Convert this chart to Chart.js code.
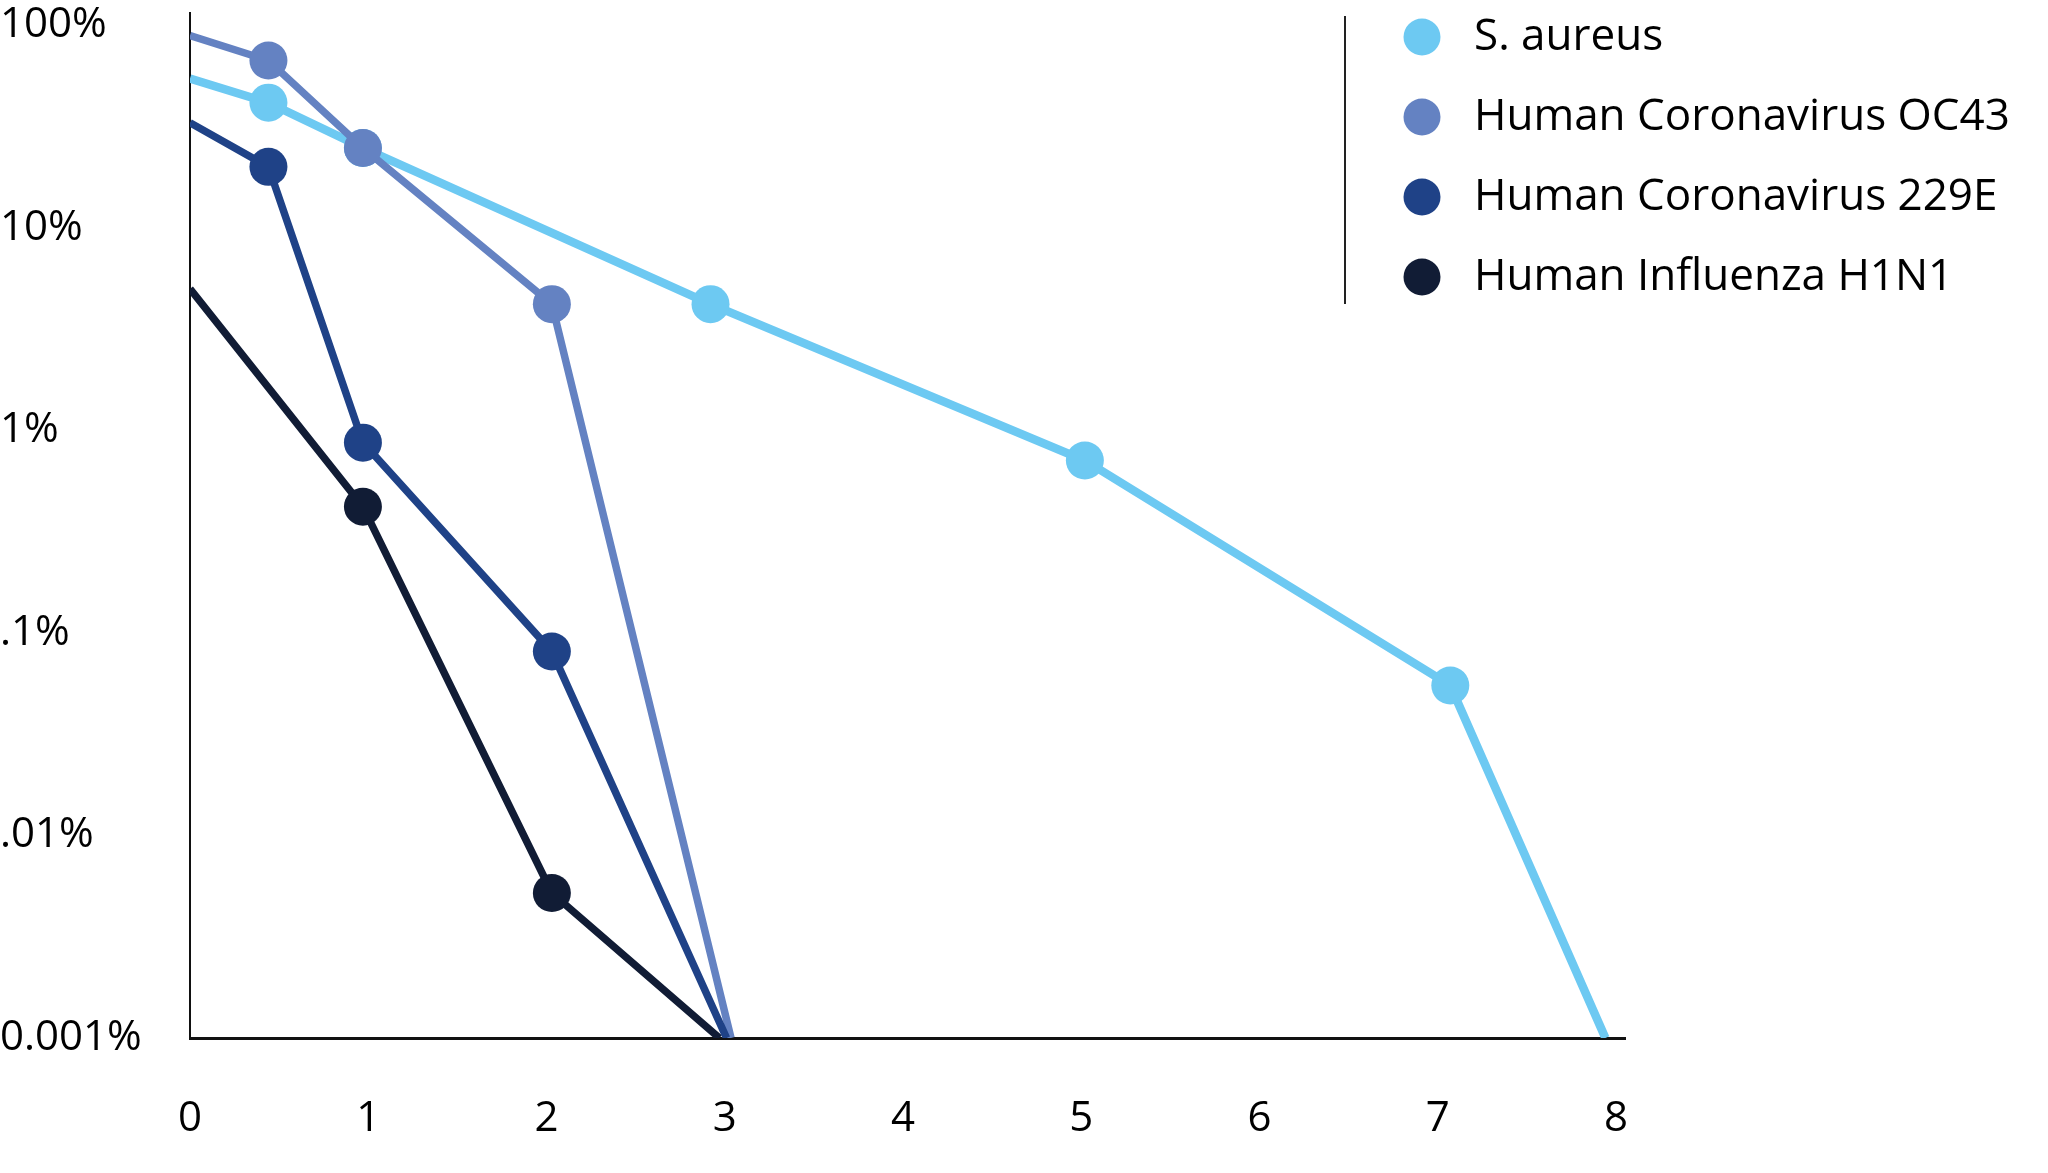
<!DOCTYPE html>
<html>
<head>
<meta charset="utf-8">
<title>Reduction over time</title>
<script src="https://cdn.jsdelivr.net/npm/chart.js@4/dist/chart.umd.min.js"></script>
<style>
  html, body { margin: 0; padding: 0; background: #ffffff; }
  #wrap { width: 2048px; height: 1173px; position: relative; }
</style>
</head>
<body>
<div id="wrap"><canvas id="killchart"></canvas></div>
<script>
// values (y in percent, log scale)

var seriesNames = ["S. aureus", "Human Coronavirus OC43", "Human Coronavirus 229E", "Human Influenza H1N1"];
var seriesColors = ["#6dc9f2", "#6482c2", "#1f4287", "#111c35"];

var saureusX = [0, 0.44, 0.97, 2.92, 5.02, 7.07, 7.94];
var saureusY = [54.6, 41.5, 24.8, 4.2, 0.71, 0.055, 0.001];

var oc43X = [0, 0.44, 0.97, 2.03, 3.035];
var oc43Y = [89, 67, 24.8, 4.2, 0.001];

var e229X = [0, 0.44, 0.97, 2.03, 3.01];
var e229Y = [33, 20, 0.87, 0.081, 0.001];

var h1n1X = [0, 0.97, 2.03, 2.97];
var h1n1Y = [5.0, 0.42, 0.0052, 0.001];

var xTickValues = [0, 1, 2, 3, 4, 5, 6, 7, 8];
var yTickValues = [0.001, 0.01, 0.1, 1, 10, 100];
var yTickLabels = ["0.001%", ".01%", ".1%", "1%", "10%", "100%"];

var FONT = "'Open Sans', Lato, sans-serif";

function points(xs, ys) {
    // pair up x and y lists for a scatter-style line
    var out = [];
    for (var i = 0; i < xs.length; i++) {
        out.push({x: xs[i], y: ys[i]});
    }
    return out;
}

function radii(n) {
    // the lines start and end without a marker
    var r = [];
    for (var i = 0; i < n; i++) {
        r.push(i === 0 || i === n - 1 ? 0 : 19);
    }
    return r;
}

function make_dataset(idx, xs, ys, width, order) {
    return {
        label: seriesNames[idx],
        data: points(xs, ys),
        borderColor: seriesColors[idx],
        backgroundColor: seriesColors[idx],
        borderWidth: width,
        pointRadius: radii(xs.length),
        pointHoverRadius: radii(xs.length),
        pointBorderWidth: 0,
        tension: 0,
        fill: false,
        order: order
    };
}

// legend on the top right, with a thin rule on its left
var sideLegend = {
    id: "sideLegend",
    afterDraw: function(chart) {
        var ctx = chart.ctx;
        ctx.save();
        ctx.strokeStyle = "#222222";
        ctx.lineWidth = 2;
        ctx.beginPath();
        ctx.moveTo(1345, 16);
        ctx.lineTo(1345, 304);
        ctx.stroke();
        chart.data.datasets.forEach(function(ds, i) {
            var y = 37 + i * 80;
            ctx.fillStyle = ds.borderColor;
            ctx.beginPath();
            ctx.arc(1422, y, 18.5, 0, Math.PI * 2);
            ctx.fill();
            ctx.fillStyle = "#000000";
            ctx.font = "44px " + FONT;
            ctx.textAlign = "left";
            ctx.textBaseline = "middle";
            ctx.fillText(ds.label, 1474, y);
        });
        ctx.restore();
    }
};

function main() {
    new Chart(document.getElementById("killchart"), {
        type: "line",
        data: {
            datasets: [
                make_dataset(0, saureusX, saureusY, 8.5, 4),
                make_dataset(1, oc43X, oc43Y, 7.5, 3),
                make_dataset(2, e229X, e229Y, 7.5, 1),
                make_dataset(3, h1n1X, h1n1Y, 7.5, 2)
            ]
        },
        options: {
            responsive: true,
            maintainAspectRatio: false,
            animation: false,
            events: [],
            layout: {
                padding: {top: 13, right: 423, bottom: 0, left: 0}
            },
            plugins: {
                legend: {display: false},
                tooltip: {enabled: false}
            },
            scales: {
                x: {
                    type: "linear",
                    min: 0,
                    max: 8.05,
                    grid: {display: false},
                    border: {display: true, color: "#111111", width: 3},
                    afterBuildTicks: function(scale) {
                        scale.ticks = xTickValues.map(function(v) { return {value: v}; });
                    },
                    afterFit: function(scale) {
                        scale.height = 135;
                        scale.paddingLeft = 0;
                        scale.paddingRight = 0;
                    },
                    ticks: {
                        color: "#000000",
                        font: {family: FONT, size: 42},
                        padding: 48,
                        maxRotation: 0,
                        autoSkip: false,
                        callback: function(value) { return String(value); }
                    }
                },
                y: {
                    type: "logarithmic",
                    min: 0.001,
                    max: 115,
                    grid: {display: false},
                    border: {display: true, color: "#111111", width: 2},
                    afterBuildTicks: function(scale) {
                        scale.ticks = yTickValues.map(function(v) { return {value: v}; });
                    },
                    afterFit: function(scale) {
                        scale.width = 190;
                        scale.paddingTop = 0;
                        scale.paddingBottom = 0;
                    },
                    ticks: {
                        color: "#000000",
                        font: {family: FONT, size: 42},
                        padding: 0,
                        crossAlign: "far",
                        autoSkip: false,
                        callback: function(value, index) { return yTickLabels[index]; }
                    }
                }
            }
        },
        plugins: [sideLegend]
    });
}

main();
</script>
</body>
</html>
